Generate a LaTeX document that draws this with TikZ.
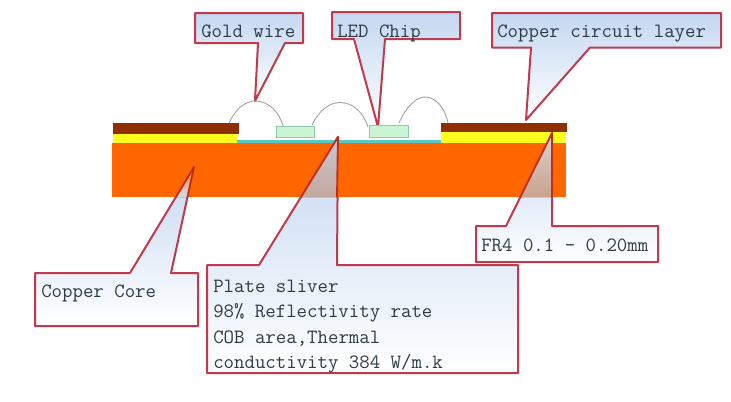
\documentclass[tikz,border=0pt]{standalone}
\definecolor{lineRed}{HTML}{BE3A4C}
\definecolor{deepRed}{HTML}{BF2E1C}
\definecolor{boxBlue}{HTML}{C4D8F1}
\definecolor{txtCol}{HTML}{2E3A45}
\definecolor{coreOrange}{HTML}{FF6600}
\definecolor{layerBrown}{HTML}{8E2F00}
\definecolor{layerYellow}{HTML}{FFFF1E}
\definecolor{stripCyan}{HTML}{58C8C6}
\definecolor{chipGreen}{HTML}{CBF6D3}
\definecolor{chipEdge}{HTML}{94C8AC}
\definecolor{wireGrey}{HTML}{A6A6A6}
\definecolor{tailTopP}{HTML}{C9C8D2}
\definecolor{tailBotP}{HTML}{C4A89E}
\definecolor{tailTopF}{HTML}{DAD2D2}
\definecolor{tailBotF}{HTML}{C9A28A}
\definecolor{tailTopC}{HTML}{FF7A20}
\definecolor{tailBotC}{HTML}{CFDFF0}
\tikzset{
  callout/.style={draw=lineRed,line width=1.5pt,line join=round,top color=boxBlue,bottom color=white},
  calloutlabel/.style={anchor=base west,inner sep=0pt,text=txtCol,font=\fontsize{15.2}{19}\selectfont\ttfamily},
  wire/.style={draw=wireGrey,line width=0.7pt},
  chip/.style={draw=chipEdge,line width=0.7pt,fill=chipGreen},
  tailedge/.style={draw=deepRed,line width=1.4pt,line cap=round}
}
\begin{document}
\begin{tikzpicture}[x=0.75pt,y=-0.75pt]
\useasboundingbox[fill=white] (0,0) rectangle (731,401);
% tips
\coordinate (goldtip) at (255,101);
\coordinate (ledtip) at (378,127);
\coordinate (cutip) at (526,120);
\coordinate (coretip) at (194,167);
\coordinate (platetip) at (338,137);
\coordinate (frtip) at (552,133);
% callout shapes
\draw[callout] (195,13) -- (303,13) -- (303,43) -- (285,43) -- (goldtip) -- (258,43) -- (195,43) -- cycle;
\draw[callout] (332,12) -- (460,12) -- (460,39) -- (385,39) -- (ledtip) -- (354,39) -- (332,39) -- cycle;
\draw[callout] (492,13) -- (721,13) -- (721,47.5) -- (590,47.5) -- (cutip) -- (531,47.5) -- (492,47.5) -- cycle;
\draw[callout] (35,273) -- (130,273) -- (coretip) -- (171,273) -- (198,273) -- (198,326) -- (35,326) -- cycle;
\draw[callout] (207,265) -- (259,265) -- (platetip) -- (337,265) -- (518,265) -- (518,373) -- (207,373) -- cycle;
\draw[callout] (476,226) -- (506,226) -- (frtip) -- (552,226) -- (658,226) -- (658,262) -- (476,262) -- cycle;
% board
\fill[coreOrange] (112,143) rectangle (565.5,197);
\fill[layerYellow] (113,134) rectangle (237,143);
\fill[layerBrown] (113,123) rectangle (239,134);
\fill[layerYellow] (441,132) rectangle (566,143);
\fill[layerBrown] (441,122.5) rectangle (567,132);
\fill[stripCyan] (237,139.5) rectangle (441,143);
\draw[chip] (276,126) rectangle (314,137);
\draw[chip] (369,125.5) rectangle (408,137);
% bonding wires
\draw[wire] (229,123) .. controls (236,108) and (246,101) .. (255,101) .. controls (268,101) and (279,111) .. (283,126);
\draw[wire] (312,125) .. controls (319,110) and (330,102.5) .. (340,102.5) .. controls (353,102.5) and (363,112) .. (368,127);
\draw[wire] (399,123) .. controls (406,107) and (416,97) .. (425,97) .. controls (436,97) and (445,108) .. (448,123);
% tails seen over the board
\fill[top color=tailTopC,bottom color=tailBotC] (coretip) -- (176,197) -- (187.5,197) -- cycle;
\draw[tailedge] (coretip) -- (176,197);
\draw[tailedge] (coretip) -- (187.5,197);
\fill[top color=tailTopP,bottom color=tailBotP] (platetip) -- (301,197) -- (337,197) -- cycle;
\draw[tailedge] (platetip) -- (301,197);
\draw[tailedge] (platetip) -- (337,197);
\fill[top color=tailTopF,bottom color=tailBotF] (frtip) -- (520.3,197) -- (552,197) -- cycle;
\draw[tailedge] (frtip) -- (520.3,197);
\draw[tailedge] (frtip) -- (552,197);
% labels
\node[calloutlabel] (gold) at (201,37) {Gold wire};
\node[calloutlabel] (led) at (337,37) {LED Chip};
\node[calloutlabel] (cu) at (497,37) {Copper circuit layer};
\node[calloutlabel] (core) at (41,297) {Copper Core};
\node[calloutlabel] (fr) at (481,251) {FR4 0.1 - 0.20mm};
\node[calloutlabel] (pa) at (213,292) {Plate sliver};
\node[calloutlabel] (pb) at (213,317) {98\% Reflectivity rate};
\node[calloutlabel] (pc) at (213,343) {COB area,Thermal};
\node[calloutlabel] (pd) at (213,368) {conductivity 384 W/m.k};
\end{tikzpicture}
\end{document}
